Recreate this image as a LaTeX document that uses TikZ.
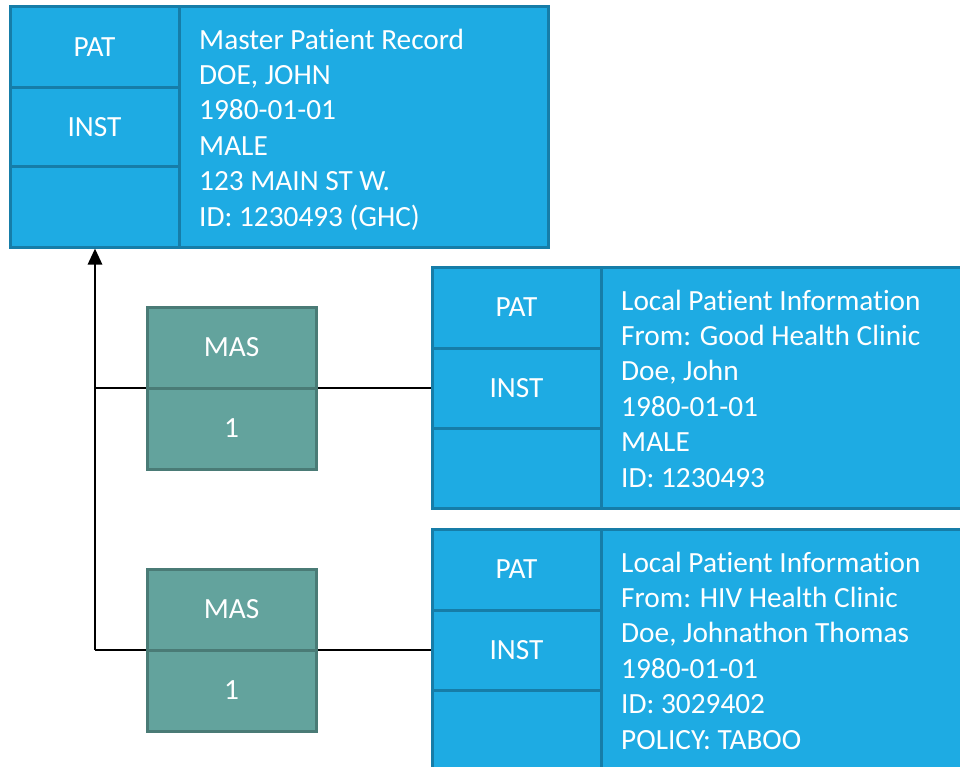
\documentclass[tikz,border=0pt]{standalone}
\usepackage{fontspec}
\setmainfont{Carlito}[Ligatures={NoCommon}]
\usetikzlibrary{arrows.meta}
\definecolor{cellblue}{RGB}{30,171,227}
\definecolor{edgeblue}{RGB}{22,125,168}
\definecolor{masfill}{RGB}{99,163,157}
\definecolor{masedge}{RGB}{74,123,118}
\begin{document}
\begin{tikzpicture}[x=1pt,y=-1pt,
  every node/.style={font=\fontsize{29.3}{35.4}\selectfont, text=white},
  bcell/.style={draw=edgeblue, fill=cellblue, line width=3pt, inner sep=0pt},
  mcell/.style={draw=masedge, fill=masfill, line width=3pt, inner sep=0pt,
    minimum width=169pt, minimum height=81pt},
  infotext/.style={anchor=north west, inner sep=0pt, align=left},
  link/.style={draw=black, line width=2.8pt},
  uplink/.style={link, -{Triangle[length=16pt,width=14pt]}}
]
\useasboundingbox (0,0) rectangle (960,767);
\fill[white] (0,0) rectangle (960,767);
\clip (0,0) rectangle (960,767);

% master patient record
\node[bcell, minimum width=369pt, minimum height=240pt] (minfo) at (363.5,127) {};
\node[bcell, minimum width=169pt, minimum height=81pt] (mpat) at (94.5,47.5) {PAT};
\node[bcell, minimum width=169pt, minimum height=79pt] (minst) at (94.5,127.5) {INST};
\node[bcell, minimum width=169pt, minimum height=80pt] (mblank) at (94.5,207) {};
\node[infotext] (mtext) at (199,24.2) {\strut Master Patient Record\\DOE, JOHN\\1980-01-01\\MALE\\123 MAIN ST W.\\ID: 1230493 (GHC)};

% first local record
\node[bcell, minimum width=399pt, minimum height=241pt] (ainfo) at (800.5,387.5) {};
\node[bcell, minimum width=169pt, minimum height=81pt] (apat) at (516.5,307.5) {PAT};
\node[bcell, minimum width=169pt, minimum height=80pt] (ainst) at (516.5,388) {INST};
\node[bcell, minimum width=169pt, minimum height=80pt] (ablank) at (516.5,468) {};
\node[infotext] (atext) at (621,285.2) {\strut Local Patient Information\\From: Good Health Clinic\\Doe, John\\1980-01-01\\MALE\\ID: 1230493};

% second local record
\node[bcell, minimum width=399pt, minimum height=242pt] (binfo) at (800.5,650) {};
\node[bcell, minimum width=169pt, minimum height=81pt] (bpat) at (516.5,569.5) {PAT};
\node[bcell, minimum width=169pt, minimum height=80pt] (binst) at (516.5,650) {INST};
\node[bcell, minimum width=169pt, minimum height=81pt] (bblank) at (516.5,730.5) {};
\node[infotext] (btext) at (621,547.2) {\strut Local Patient Information\\From: HIV Health Clinic\\Doe, Johnathon Thomas\\1980-01-01\\ID: 3029402\\POLICY: TABOO};

% connectors
\coordinate (j1) at (95,388);
\coordinate (j2) at (95,650);
\draw[link] (j1) -- (ainst.west);
\draw[link] (j2) -- (binst.west);
\draw[uplink] (j2) -- (j2 |- mblank.south);

% match links
\node[mcell] (mas1) at (231.5,347.5) {MAS};
\node[mcell] (one1) at (231.5,428.5) {1};
\node[mcell] (mas2) at (231.5,609.5) {MAS};
\node[mcell] (one2) at (231.5,690.5) {1};
\end{tikzpicture}
\end{document}
